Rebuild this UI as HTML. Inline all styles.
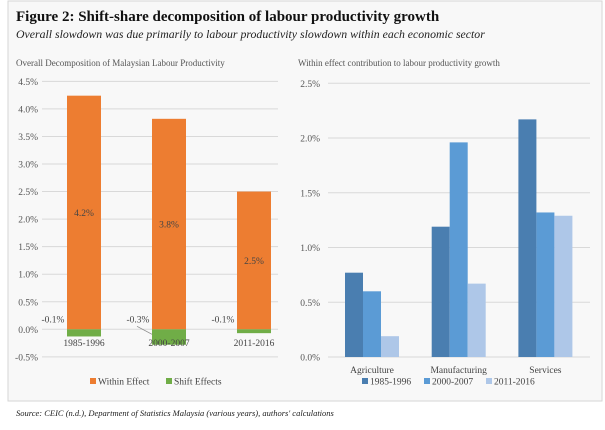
<!DOCTYPE html>
<html><head><meta charset="utf-8"><style>
body{margin:0;width:605px;height:425px;background:#fff;overflow:hidden;font-family:"Liberation Serif",serif}
svg text{font-family:"Liberation Serif",serif}
</style></head><body>
<svg width="605" height="425" viewBox="0 0 605 425">
<rect x="8" y="1" width="594" height="400" fill="#f8f8f8" stroke="#d6d6d6"/>
<text x="16" y="21" font-size="15" font-weight="bold" fill="#111">Figure 2: Shift-share decomposition of labour productivity growth</text>
<text x="16" y="38" font-size="11.8" font-style="italic" fill="#222">Overall slowdown was due primarily to labour productivity slowdown within each economic sector</text>
<text x="16" y="66" font-size="9" fill="#555">Overall Decomposition of Malaysian Labour Productivity</text>
<text x="298" y="66" font-size="9" fill="#555">Within effect contribution to labour productivity growth</text>
<g id="left"></g><g id="right"></g>
<text x="16" y="416" font-size="8.5" font-style="italic" fill="#222">Source: CEIC (n.d.), Department of Statistics Malaysia (various years), authors' calculations</text>
</svg>
<script>
const leftCats=["1985-1996","2000-2007","2011-2016"];
const withinVals=[4.24,3.82,2.50];
const shiftVals=[-0.13,-0.28,-0.07];
const withinLabels=["4.2%","3.8%","2.5%"];
const shiftLabels=["-0.1%","-0.3%","-0.1%"];
const leftTicks=[-0.5,0,0.5,1,1.5,2,2.5,3,3.5,4,4.5];
const rightCats=["Agriculture","Manufacturing","Services"];
const s1985=[0.77,1.19,2.17];
const s2000=[0.60,1.96,1.32];
const s2011=[0.19,0.67,1.29];
const rightTicks=[0,0.5,1,1.5,2,2.5];
const NS="http://www.w3.org/2000/svg";
function mk(p,t,a,txt){const e=document.createElementNS(NS,t);for(const k in a)e.setAttribute(k,a[k]);if(txt!==undefined)e.textContent=txt;p.appendChild(e);return e;}
// left
const L=document.getElementById('left');
const ly=v=>329.3-v*55.1;
const lx=i=>67+i*85;
leftTicks.forEach(t=>{
 const g=mk(L,'line',{x1:42,x2:278,y1:ly(t),y2:ly(t),stroke:'#d9d9d9','stroke-width':1});
 
 
 const tx=mk(L,'text',{x:38,y:ly(t)+3.5,'font-size':9.5,fill:'#555','text-anchor':'end'},t.toFixed(1)+'%');
 
 
});
leftCats.forEach((c,i)=>{
 const b=mk(L,'rect',{x:lx(i),y:ly(withinVals[i]),width:34,height:ly(0)-ly(withinVals[i]),fill:'#ed7d31'});
 
 
 const s=mk(L,'rect',{x:lx(i),y:ly(0),width:34,height:ly(shiftVals[i])-ly(0),fill:'#70ad47'});
 
 
 const wl=mk(L,'text',{x:lx(i)+17,y:ly(withinVals[i]/2)+3.5,'font-size':9.5,fill:'#444','text-anchor':'middle'},withinLabels[i]);
 
 
 const sl=mk(L,'text',{x:lx(i)-14,y:ly(0)-7,'font-size':9.5,fill:'#444','text-anchor':'middle'},shiftLabels[i]);
 
 
 const cl=mk(L,'text',{x:lx(i)+17,y:ly(0)+16.5,'font-size':9.5,fill:'#444','text-anchor':'middle'},c);
 
 
});
const ll=mk(L,'line',{x1:137,y1:ly(0)-3,x2:152,y2:ly(0)+5,stroke:'#888','stroke-width':0.8});


[["#ed7d31","Within Effect",90],["#70ad47","Shift Effects",166]].forEach(([col,t,x])=>{
 const r=mk(L,'rect',{x:x,y:378,width:6,height:6,fill:col});
 
 
 const tx=mk(L,'text',{x:x+8,y:384.5,'font-size':9.5,fill:'#444'},t);
 
 
});
// right
const R=document.getElementById('right');
const ry=v=>357-v*109.5;
rightTicks.forEach(t=>{
 const g=mk(R,'line',{x1:328,x2:590,y1:ry(t),y2:ry(t),stroke:'#d9d9d9','stroke-width':1});
 
 
 const tx=mk(R,'text',{x:320,y:ry(t)+3.5,'font-size':9.5,fill:'#555','text-anchor':'end'},t.toFixed(1)+'%');
 
 
});
const series=[[s1985,'#4a7eb0','1985-1996'],[s2000,'#5b9bd5','2000-2007'],[s2011,'#aec7e8','2011-2016']];
rightCats.forEach((c,i)=>{
 const gx=345+i*86.7;
 series.forEach(([arr,col,name],j)=>{
  const b=mk(R,'rect',{x:gx+j*18,y:ry(arr[i]),width:18,height:ry(0)-ry(arr[i]),fill:col});
  
  
 });
 const cl=mk(R,'text',{x:gx+27,y:373,'font-size':9.5,fill:'#444','text-anchor':'middle'},c);
 
 
});
series.forEach(([arr,col,name],j)=>{
 const x=362+j*62;
 const r=mk(R,'rect',{x:x,y:378,width:6,height:6,fill:col});
 
 
 const tx=mk(R,'text',{x:x+8,y:384.5,'font-size':9.5,fill:'#444'},name);
 
 
});
</script>
</body></html>
